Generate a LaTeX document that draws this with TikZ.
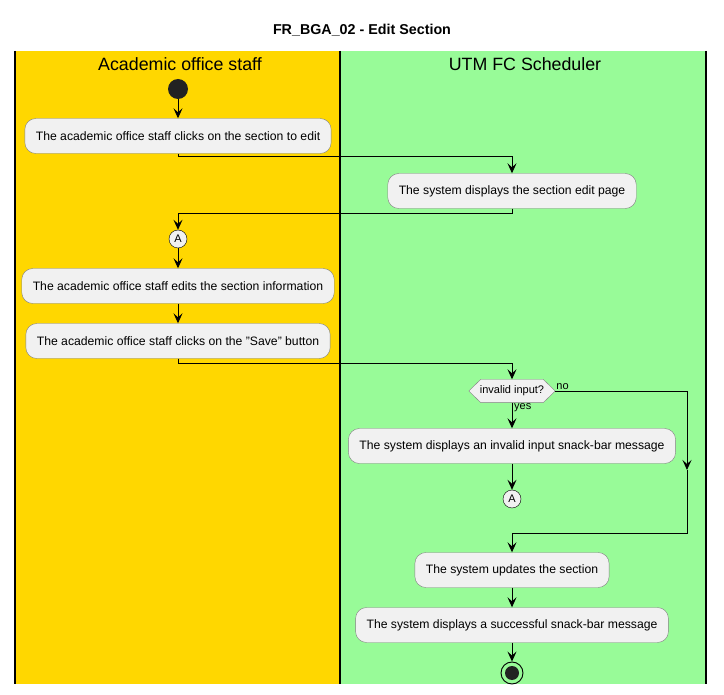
\documentclass[tikz,border=0pt]{standalone}
\usepackage{fontspec}
\setmainfont{Liberation Sans}
\usetikzlibrary{arrows.meta,positioning,calc}
\definecolor{lanegold}{RGB}{255,215,0}
\definecolor{lanegreen}{RGB}{152,251,152}
\definecolor{actfill}{RGB}{241,241,241}
\definecolor{actline}{RGB}{128,128,128}
\definecolor{dotblack}{RGB}{34,34,34}

\begin{document}
\begin{tikzpicture}[x=1pt,y=-1pt,
    every node/.style={font=\fontsize{12.2}{14}\selectfont},
    action/.style={draw=actline,fill=actfill,rounded corners=11pt,minimum height=35pt,inner xsep=11pt,anchor=center},
    conn/.style={draw=black,fill=actfill,circle,inner sep=0pt,minimum size=18pt,font=\fontsize{11}{13}\selectfont},
    arr/.style={-{Stealth[length=10pt,width=9pt,inset=4pt]},line width=0.9pt},
    lane/.style={line width=1.2pt}]
    \useasboundingbox (0,0) rectangle (724,695);
    % Swimlanes
    \fill[white] (0,0) rectangle (724,695);
    \fill[lanegold] (15,51) rectangle (340,684);
    \fill[lanegreen] (340,51) rectangle (706,684);
    \draw[lane] (15,51) -- (15,684);
    \draw[lane] (340,51) -- (340,684);
    \draw[lane] (706,51) -- (706,684);
    \node[font=\fontsize{14.3}{17}\selectfont\bfseries] (title) at (362,30) {FR\_BGA\_02 - Edit Section};
    \node[font=\fontsize{17.8}{20}\selectfont] (staff) at (180,64) {Academic office staff};
    \node[font=\fontsize{17.8}{20}\selectfont] (sched) at (525,64) {UTM FC Scheduler};
    % Activities
    \node[circle,fill=dotblack,minimum size=20pt,inner sep=0pt] (start) at (178,89) {};
    \node[action] (click) at (178,136) {The academic office staff clicks on the section to edit};
    \node[action] (page) at (512,191) {The system displays the section edit page};
    \node[conn] (a1) at (178,239) {A};
    \node[action] (edit) at (178,286) {The academic office staff edits the section information};
    \node[action] (save) at (178,341) {The academic office staff clicks on the "Save" button};
    \node[minimum width=86pt,minimum height=23pt,inner sep=0pt] (dec) at (512,391) {};
    \draw[draw=actline,fill=actfill] (dec.west) -- ([xshift=12pt]dec.north west) -- ([xshift=-12pt]dec.north east)
        -- (dec.east) -- ([xshift=-12pt]dec.south east) -- ([xshift=12pt]dec.south west) -- cycle;
    \node[font=\fontsize{11}{13}\selectfont] (dectext) at (dec) {invalid input?};
    \node[action] (invalid) at (512,446) {The system displays an invalid input snack-bar message};
    \node[conn] (a2) at (512,499) {A};
    \node[action] (update) at (512,570) {The system updates the section};
    \node[action] (success) at (512,625) {The system displays a successful snack-bar message};
    \node[circle,draw=black,line width=0.9pt,minimum size=22pt,inner sep=0pt] (stop) at (512,673) {};
    \fill[dotblack] (stop) circle (7pt);
    % Labels
    \node[anchor=south west,inner sep=1pt,font=\fontsize{11}{13}\selectfont] (nolbl) at (dec.east) {no};
    \node[anchor=north west,inner sep=1pt,font=\fontsize{11}{13}\selectfont] (yeslbl) at ([xshift=1pt]dec.south) {yes};
    \coordinate (nomid) at (687,470);
    \coordinate (nobend) at (687,533);
    % Arrows
    \draw[arr] (start) -- (click);
    \draw[arr] (click.south) -- ++(0,3) -| (page.north);
    \draw[arr] (page.south) -- ++(0,5) -| (a1.north);
    \draw[arr] (a1) -- (edit);
    \draw[arr] (edit) -- (save);
    \draw[arr] (save.south) -- ++(0,5) -| (dec.north);
    \draw[arr] (dec.south) -- (invalid.north);
    \draw[arr] (invalid) -- (a2);
    \draw[arr] (dec.east) -| (nomid);
    \draw[arr] (nomid) -- (nobend) -| (update.north);
    \draw[arr] (update) -- (success);
    \draw[arr] (success) -- (stop);
\end{tikzpicture}
\end{document}
